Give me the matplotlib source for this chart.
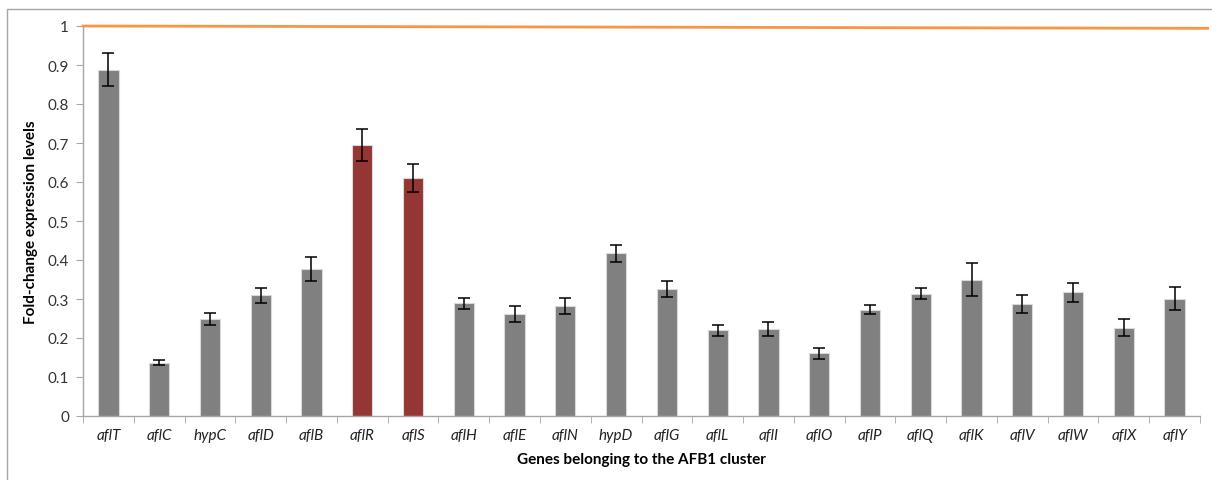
import matplotlib
matplotlib.use("Agg")
import matplotlib.pyplot as plt
import numpy as np
from matplotlib.patches import Rectangle

genes = ["aflT", "aflC", "hypC", "aflD", "aflB", "aflR", "aflS", "aflH", "aflE", "aflN",
         "hypD", "aflG", "aflL", "aflI", "aflO", "aflP", "aflQ", "aflK", "aflV", "aflW",
         "aflX", "aflY"]
values = [0.888, 0.137, 0.248, 0.310, 0.377, 0.695, 0.610, 0.289, 0.262, 0.282,
          0.417, 0.325, 0.220, 0.224, 0.161, 0.273, 0.314, 0.350, 0.287, 0.317,
          0.226, 0.301]
errors = [0.043, 0.007, 0.015, 0.019, 0.031, 0.040, 0.035, 0.014, 0.021, 0.020,
          0.022, 0.020, 0.014, 0.018, 0.014, 0.012, 0.015, 0.043, 0.023, 0.025,
          0.022, 0.030]
highlight = ["aflR", "aflS"]
ref_level = [1.0, 0.994]
yticks = [0, 0.1, 0.2, 0.3, 0.4, 0.5, 0.6, 0.7, 0.8, 0.9, 1]
ytick_labels = ["0", "0.1", "0.2", "0.3", "0.4", "0.5", "0.6", "0.7", "0.8", "0.9", "1"]

plt.rcParams['font.family'] = ['Lato', 'DejaVu Sans']

fig = plt.figure(figsize=(12.12, 4.81), dpi=100)
fig.patches.append(Rectangle((7/1212, -0.1), 1.2, (481-10)/481 + 0.1, transform=fig.transFigure,
                             fill=False, edgecolor="#a6a6a6", linewidth=1.0))
ax = fig.add_axes([83/1212, (481-417)/481, (1200-83)/1212, 390/481])

x = np.arange(len(genes))
colors = ["#943634" if g in highlight else "#808080" for g in genes]
ax.bar(x, values, width=0.4, color=colors, edgecolor="#d9d9d9", linewidth=0.8, zorder=2)
ax.errorbar(x, values, yerr=errors, fmt="none", ecolor="black", elinewidth=1.1,
            capsize=4, capthick=1.1, zorder=3)
ax.plot([-0.5, len(genes) - 0.35], ref_level, color="#F79646", linewidth=2, clip_on=False, zorder=4)

ax.set_xlim(-0.5, len(genes) - 0.5)
ax.set_ylim(0, 1)
ax.set_yticks(yticks)
ax.set_yticklabels(ytick_labels, fontsize=11, color="#333333")
ax.set_xticks(x)
ax.set_xticklabels(genes, fontsize=11, style="italic", color="#222222")
ax.set_xticks(np.arange(-0.5, len(genes)), minor=True)
ax.tick_params(axis="x", which="major", length=0, pad=9)
ax.tick_params(axis="x", which="minor", length=5, color="#a6a6a6", direction="out")
ax.tick_params(axis="y", length=5, color="#a6a6a6", direction="out", pad=5)

for s in ["top", "right"]:
    ax.spines[s].set_visible(False)
for s in ["left", "bottom"]:
    ax.spines[s].set_color("#a6a6a6")
    ax.spines[s].set_linewidth(1.0)

ax.set_ylabel("Fold-change expression levels", fontsize=11, fontweight="bold", labelpad=7)
ax.set_xlabel("Genes belonging to the AFB1 cluster", fontsize=11, fontweight="bold", labelpad=7)

fig.savefig("out.png", dpi=100)
